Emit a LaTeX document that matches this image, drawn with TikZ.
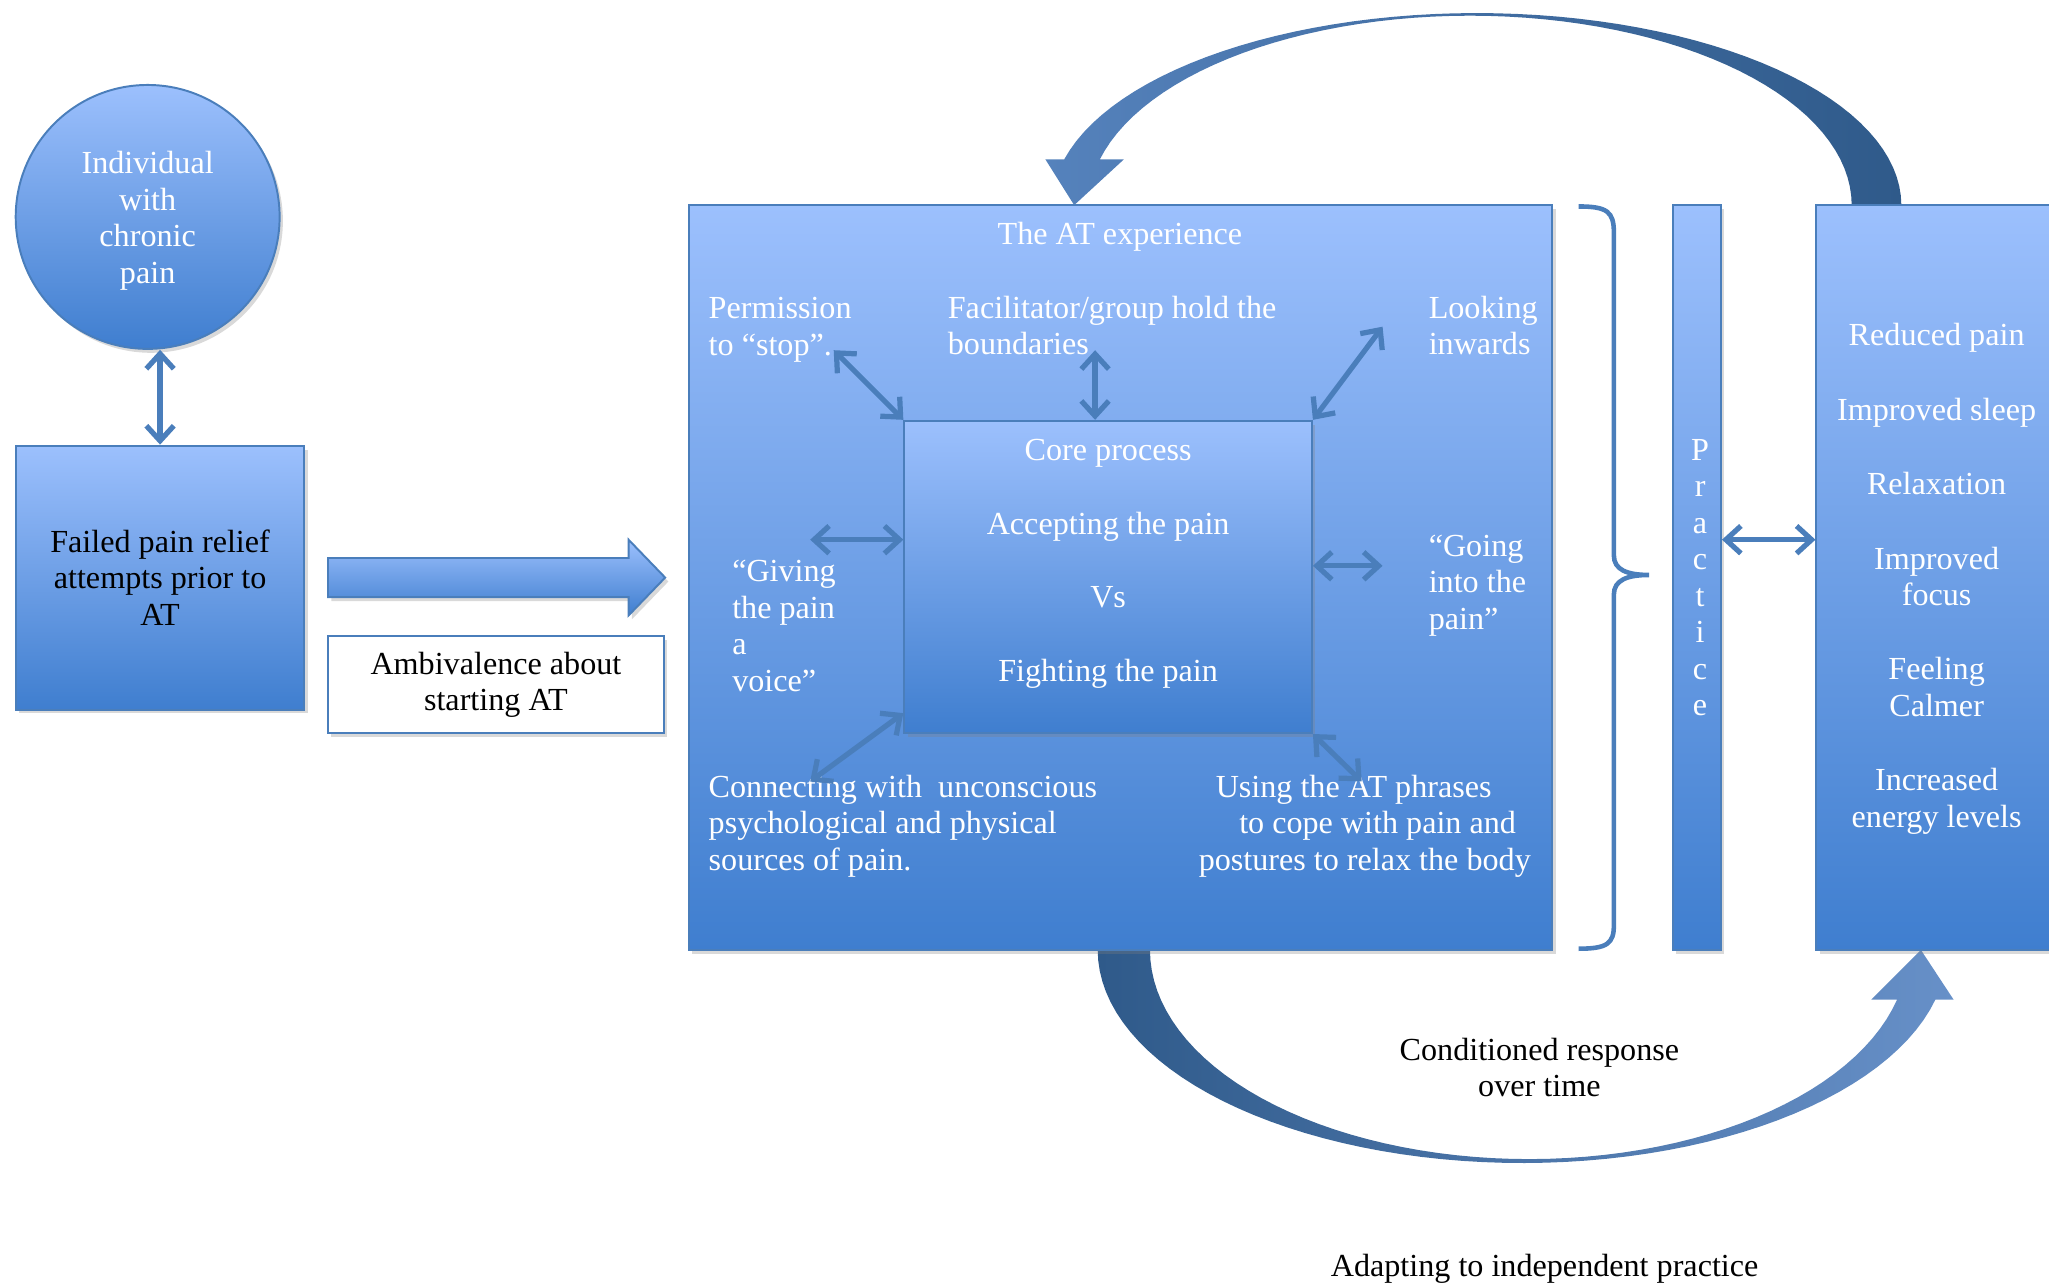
\documentclass[tikz,border=0pt]{standalone}
\usepackage{fontspec}
\setmainfont{Liberation Serif}
\usepackage{xcolor}
\usepackage{tikz}
\usetikzlibrary{arrows.meta,shadows}

\definecolor{boxtop}{HTML}{9CC0FD}
\definecolor{boxbot}{HTML}{3F7ECF}
\definecolor{edge}{HTML}{4A7EBB}
\definecolor{arrdark}{HTML}{2F5A8A}
\definecolor{arrmid}{HTML}{5582BC}
\definecolor{arrlight}{HTML}{6790C8}

\begin{document}
\begin{tikzpicture}[x=0.02cm, y=-0.02cm,
  every node/.style={font=\fontsize{14}{15.9}\selectfont},
  grad/.style={draw=edge, line width=0.03cm, top color=boxtop, bottom color=boxbot,
    drop shadow={opacity=0.3, shadow xshift=0.05cm, shadow yshift=-0.06cm}},
  wtxt/.style={text=white, inner sep=0pt},
  btxt/.style={text=black, inner sep=0pt},
  barb/.tip={Straight Barb[length=0.23cm,width=0.42cm]},
  dbl/.style={draw=edge, line width=0.08cm, barb-barb}]
  \useasboundingbox (0,0) rectangle (1568,983);
  \clip (0,0) rectangle (1568,983);

  % curved arrows behind the boxes
  \shade[left color=arrmid, right color=arrdark]
    plot[domain=0:166.2, samples=60] ({1130+325*cos(\x)}, {157-147*sin(\x)})
    -- (800,122) -- (822,157) -- (860,122) -- (842,122)
    -- plot[domain=166.03:0, samples=60] ({1125+292*cos(\x)}, {157-145*sin(\x)})
    -- cycle;
  \shade[left color=arrdark, right color=arrlight]
    plot[domain=180:13.5, samples=60] ({1165+325*cos(\x)}, {727+163*sin(\x)})
    -- (1495,765) -- (1470,727) -- (1432,765) -- (1452,765)
    -- plot[domain=13.74:180, samples=60] ({1170+290*cos(\x)}, {727+160*sin(\x)})
    -- cycle;

  % left side
  \node[grad, circle, minimum size=4.04cm, wtxt, align=center] (indiv) at (113,166) {\\[-0.1cm]Individual\\with\\chronic\\pain};
  \node[grad, minimum width=4.42cm, minimum height=4.04cm, btxt, align=center] (failed) at (122.5,442) {Failed pain relief\\attempts prior to\\AT};
  \path[grad] (251,427) -- (481,427) -- (481,413) -- (509,442) -- (481,471) -- (481,457) -- (251,457) -- cycle;
  \node[draw=edge, line width=0.03cm, fill=white, minimum width=5.14cm, minimum height=1.48cm, btxt, align=center,
    drop shadow={opacity=0.3, shadow xshift=0.05cm, shadow yshift=-0.06cm}] (ambi) at (379.5,524) {Ambivalence about\\starting AT};

  % the AT experience
  \node[grad, minimum width=13.22cm, minimum height=11.4cm] (atexp) at (857.5,442) {};
  \node[grad, minimum width=6.24cm, minimum height=4.78cm] (core) at (848,441.5) {};
  \node[wtxt, align=center] (coretxt) at (848,431.5) {Core process\\[0.565cm]Accepting the pain\\[0.565cm]Vs\\[0.565cm]Fighting the pain};
  \node[wtxt] (title) at (857,181) {The AT experience};
  \node[wtxt, align=left, anchor=west] (perm) at (542,252.5) {Permission\\to “stop”.};
  \node[wtxt, align=left, anchor=west] (facil) at (725,249) {Facilitator/group hold the\\boundaries};
  \node[wtxt, align=left, anchor=west] (look) at (1093,249) {Looking\\inwards};
  \node[wtxt, align=left, anchor=west] (voice) at (560,479) {“Giving\\the pain\\a\\voice”};
  \node[wtxt, align=left, anchor=west] (going) at (1093,448) {“Going\\into the\\pain”};
  \node[wtxt, align=left, anchor=west] (connect) at (542,632) {Connecting with~ unconscious\\psychological and physical\\sources of pain.};
  \node[wtxt, align=left, anchor=west] (phrases) at (917,632) {\hspace*{0.26cm}Using the AT phrases\\\hspace*{0.62cm}to cope with pain and\\postures to relax the body};

  % practice and gains
  \node[grad, minimum width=0.74cm, minimum height=11.4cm] (prac) at (1298.5,442) {};
  \node[wtxt, align=center] (practxt) at (1301,442) {P\\r\\a\\c\\t\\i\\c\\e};
  \node[grad, minimum width=4.2cm, minimum height=11.4cm] (gain) at (1495,442) {};
  \node[wtxt, align=center] (gaintxt) at (1482,443) {Reduced pain\\[0.58cm]Improved sleep\\[0.58cm]Relaxation\\[0.58cm]Improved\\focus\\[0.58cm]Feeling\\Calmer\\[0.58cm]Increased\\energy levels};

  \node[btxt, align=center] (cond) at (1178,817) {Conditioned response\\over time};
  \node[btxt] (adapt) at (1182,971) {Adapting to independent practice};

  % free ends of the core arrows
  \coordinate (permEnd) at (638,268);
  \coordinate (facilEnd) at (838,268);
  \coordinate (lookEnd) at (1058,250);
  \coordinate (voiceEnd) at (620,413);
  \coordinate (goingEnd) at (1058,433);
  \coordinate (connEnd) at (620,598);
  \coordinate (phrEnd) at (1042,598);

  % double arrows
  \draw[dbl] (indiv.south -| failed.north) -- (failed.north);
  \draw[dbl] (core.north west) -- (permEnd);
  \draw[dbl] (facilEnd |- core.north) -- (facilEnd);
  \draw[dbl] (core.north east) -- (lookEnd);
  \draw[dbl] (core.west |- voiceEnd) -- (voiceEnd);
  \draw[dbl] (core.east |- goingEnd) -- (goingEnd);
  \draw[dbl] ([yshift=0.32cm]core.south west) -- (connEnd);
  \draw[dbl] (core.south east) -- (phrEnd);
  \draw[dbl] (prac.east |- voiceEnd) -- (gain.west |- voiceEnd);

  % brace
  \draw[edge, line width=0.07cm] (1208,158) .. controls (1230,158) and (1235,162) .. (1235,178)
    -- (1235,425) .. controls (1235,436) and (1245,440) .. (1262,440)
    .. controls (1245,440) and (1235,444) .. (1235,455)
    -- (1235,708) .. controls (1235,722) and (1230,726) .. (1208,726);
\end{tikzpicture}
\end{document}
